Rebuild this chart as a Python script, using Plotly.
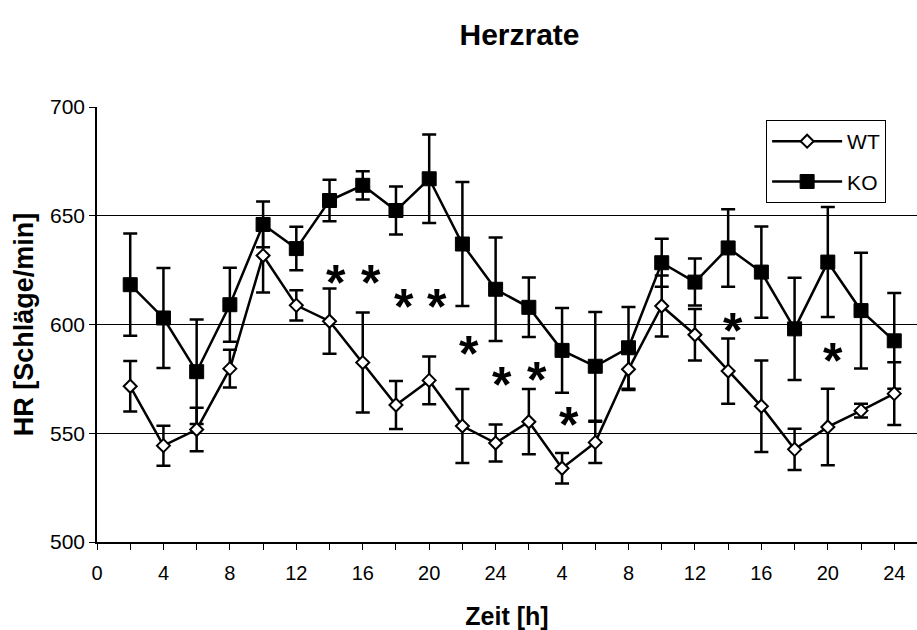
import plotly.graph_objects as go

# Time points (hours since start, two consecutive days)
hours = [2, 4, 6, 8, 10, 12, 14, 16, 18, 20, 22, 24,
         26, 28, 30, 32, 34, 36, 38, 40, 42, 44, 46, 48]

# Heart rate, mean and SEM per genotype
wt_mean = [571.6, 544.3, 551.7, 579.7, 631.7, 608.8, 601.5, 582.5, 563.0, 574.3, 553.3, 545.5,
           555.3, 533.9, 545.8, 579.4, 608.5, 595.3, 578.6, 562.4, 542.6, 552.9, 560.4, 568.2]
wt_sem = [11.6, 9.2, 10.0, 8.7, 17.0, 7.0, 15.0, 23.0, 11.0, 11.0, 17.0, 8.5,
          15.0, 7.0, 9.5, 9.5, 14.0, 11.8, 15.0, 21.0, 9.5, 17.6, 3.2, 14.4]

ko_mean = [618.3, 603.0, 578.3, 609.1, 646.0, 634.9, 657.0, 664.0, 652.4, 667.0, 637.0, 616.2,
           607.9, 588.1, 580.8, 589.3, 628.4, 619.5, 635.2, 624.1, 598.0, 628.7, 606.4, 592.5]
ko_sem = [23.5, 23.0, 24.0, 17.0, 10.5, 10.0, 9.5, 6.5, 11.0, 20.3, 28.5, 23.8,
          13.7, 19.5, 25.0, 18.8, 11.0, 10.8, 17.8, 21.0, 23.5, 25.3, 26.6, 22.0]

# Significance markers: (hour, label height)
sig_hours = [14.4, 16.5, 18.5, 20.5, 22.4, 24.4, 26.5, 28.4, 38.3, 44.3]
sig_levels = [621.8, 621.8, 611.0, 611.0, 589.0, 575.0, 577.4, 556.7, 599.6, 585.8]

# Axis ticks: every 2 h, labelled every 4 h as clock time of each day
tick_vals = list(range(0, 50, 2))
tick_text = [(str(v if v <= 24 else v - 24) if v % 4 == 0 else "") for v in tick_vals]

FONT = "Liberation Sans, Arial, sans-serif"
err_style = dict(type="data", symmetric=True, color="black", thickness=2.5, width=7)

fig = go.Figure()

fig.add_trace(go.Scatter(
    x=hours, y=ko_mean, name="KO", mode="lines+markers",
    legendgroup="ko", legendrank=2,
    line=dict(color="black", width=2.5),
    marker=dict(symbol="square", size=14, color="black", line=dict(color="black", width=1)),
    error_y=dict(array=ko_sem, **err_style),
))

fig.add_trace(go.Scatter(
    x=hours, y=wt_mean, name="WT", mode="lines+markers",
    legendgroup="wt", legendrank=1,
    line=dict(color="black", width=2.5),
    marker=dict(symbol="diamond", size=10, color="white", line=dict(color="black", width=2)),
    error_y=dict(array=wt_sem, **err_style),
))

for hx, hy in zip(sig_hours, sig_levels):
    fig.add_annotation(x=hx, y=hy, text="<b>*</b>", showarrow=False,
                       font=dict(family=FONT, size=50, color="black"),
                       xanchor="center", yanchor="middle", yshift=-6)

fig.update_layout(
    width=917, height=630,
    margin=dict(l=97, r=0, t=107, b=88),
    paper_bgcolor="white", plot_bgcolor="white",
    font=dict(family=FONT, color="black"),
    title=dict(text="<b>Herzrate</b>", font=dict(family=FONT, size=30, color="black"),
               x=519.5 / 917, xanchor="center", y=1 - 34 / 630, yanchor="middle",
               xref="container", yref="container"),
    showlegend=True,
    legend=dict(x=0.816, y=0.97, xanchor="left", yanchor="top",
                bgcolor="white", bordercolor="black", borderwidth=1,
                font=dict(family=FONT, size=21, color="black"),
                itemwidth=70,
                traceorder="grouped", tracegroupgap=10),
)

fig.update_xaxes(
    range=[0, 49.37], tickmode="array", tickvals=tick_vals, ticktext=tick_text,
    ticks="outside", ticklen=6, tickwidth=1, tickcolor="black",
    ticklabelstandoff=6,
    showline=True, linecolor="black", linewidth=2,
    showgrid=False, zeroline=False,
    tickfont=dict(family=FONT, size=20, color="black"),
    title=dict(text="<b>Zeit [h]</b>", font=dict(family=FONT, size=25, color="black"), standoff=28),
)

fig.update_yaxes(
    range=[500, 700], tickmode="linear", tick0=500, dtick=50,
    ticks="outside", ticklen=6, tickwidth=1, tickcolor="black",
    showline=True, linecolor="black", linewidth=1.5,
    showgrid=True, gridcolor="black", gridwidth=1, zeroline=False,
    tickfont=dict(family=FONT, size=21, color="black"),
    title=dict(text="<b>HR [Schläge/min]</b>", font=dict(family=FONT, size=27, color="black"), standoff=9),
)

fig.write_html("out.html")
